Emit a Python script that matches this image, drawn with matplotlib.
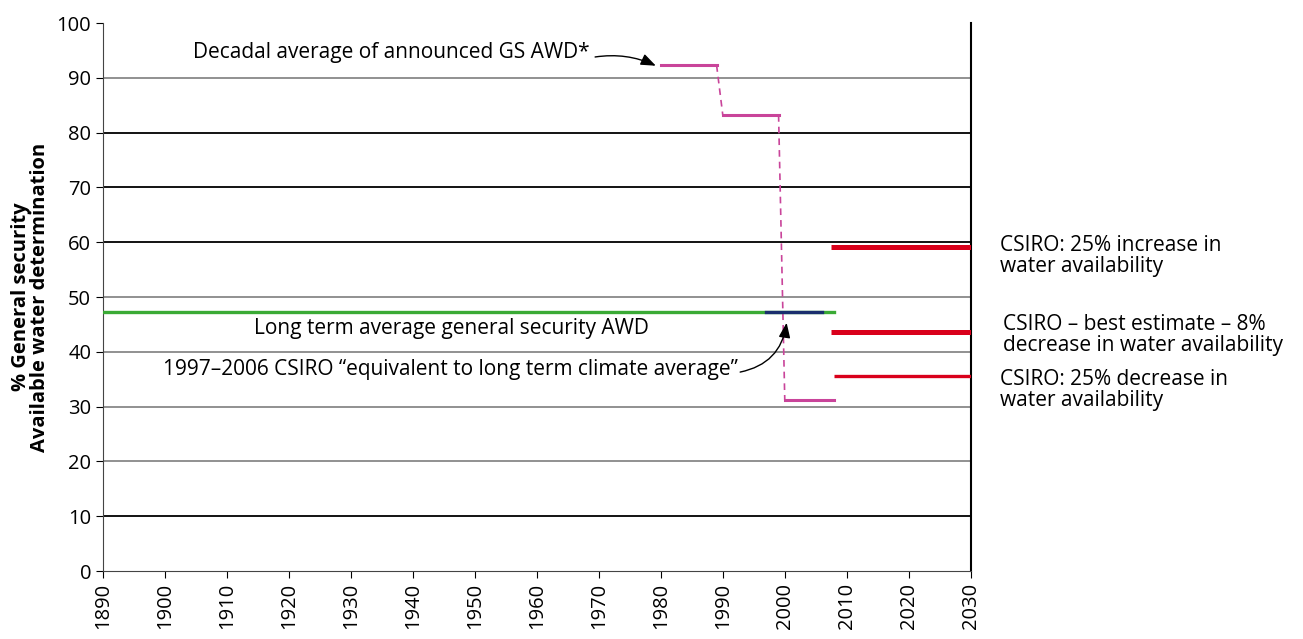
import matplotlib.pyplot as plt

plt.rcParams['font.family'] = ['Open Sans', 'DejaVu Sans']

# decadal average of announced GS AWD (step values)
decadal_start = [1980, 1990, 2000]
decadal_end = [1989, 1999, 2008]
decadal_val = [92.3, 83.2, 31.2]

long_term_avg = 47.3
long_term_span = [1890, 2008]
csiro_equiv_span = [1997, 2006]

# CSIRO projections
proj_start = [2007.4, 2007.4, 2008]
proj_end = 2030
proj_vals = [59.2, 43.6, 35.5]
proj_widths = [3.6, 3.6, 2.4]
proj_labels = ["CSIRO: 25% increase in\nwater availability",
               "CSIRO \u2013 best estimate \u2013 8%\ndecrease in water availability",
               "CSIRO: 25% decrease in\nwater availability"]

grid_vals = [10, 20, 30, 40, 50, 60, 70, 80, 90]
grid_cols = ['black', '#888888', '#888888', '#888888', '#888888',
             'black', 'black', 'black', '#888888']

fig = plt.figure(figsize=(13.03, 6.39), dpi=100)
ax = fig.add_axes([0.079, 0.1064, 0.666, 0.8576])

for g, c in zip(grid_vals, grid_cols):
    ax.axhline(g, color=c, lw=1.3, zorder=1)

# long term average
ax.plot(long_term_span, [long_term_avg] * 2, color='#3aaa35', lw=2.4, zorder=3)
ax.plot(csiro_equiv_span, [long_term_avg] * 2, color='#1a2f6e', lw=2.4, zorder=4)

# decadal steps
mag = '#c9449a'
for i in range(len(decadal_val)):
    ax.plot([decadal_start[i], decadal_end[i]], [decadal_val[i]] * 2,
            color=mag, lw=2.2, zorder=3)
    if i > 0:
        ax.plot([decadal_end[i - 1], decadal_start[i]],
                [decadal_val[i - 1], decadal_val[i]],
                color=mag, lw=1.2, ls=(0, (4, 3)), zorder=3)

# projections
for s, v, w in zip(proj_start, proj_vals, proj_widths):
    ax.plot([s, proj_end], [v, v], color='#d9001b', lw=w, zorder=3,
            solid_capstyle='butt')

ax.set_xlim(1890, 2030)
ax.set_ylim(0, 100)
ax.set_xticks(range(1890, 2031, 10))
ax.set_yticks(range(0, 101, 10))
ax.tick_params(axis='x', labelrotation=90, labelsize=14.5, length=5, direction='out')
ax.tick_params(axis='y', labelsize=14.5, length=5, direction='out')
ax.spines['top'].set_visible(False)
ax.spines['left'].set_color('#444444')
ax.spines['bottom'].set_color('#444444')
ax.spines['right'].set_linewidth(1.5)
ax.set_ylabel("% General security\nAvailable water determination",
              fontsize=14.5, fontweight='bold', linespacing=0.95)
ax.yaxis.set_label_coords(-0.061, 0.5)

arrow_kw = dict(arrowstyle='-|>,head_length=0.9,head_width=0.35',
                color='black', lw=1, shrinkA=0, shrinkB=0)

ax.text(1968.5, 94.7, "Decadal average of announced GS AWD*",
        ha='right', va='center', fontsize=15)
ax.annotate("", xy=(1979.2, 92.2), xytext=(1969.4, 93.8),
            arrowprops=dict(connectionstyle='arc3,rad=-0.15', **arrow_kw))

ax.text(1946.3, 44.3, "Long term average general security AWD",
        ha='center', va='center', fontsize=15)

ax.text(1992.5, 36.7,
        "1997\u20132006 CSIRO \u201cequivalent to long term climate average\u201d",
        ha='right', va='center', fontsize=15)
ax.annotate("", xy=(2000.3, 45.3), xytext=(1992.8, 36.3),
            arrowprops=dict(connectionstyle='arc3,rad=0.35', **arrow_kw))

label_pos = [(1000, 256), (1003, 335), (1000, 390)]
for (px, py), lab in zip(label_pos, proj_labels):
    fig.text(px / 1303, 1 - py / 639, lab, ha='left', va='center',
             fontsize=15, linespacing=1.0)

fig.savefig("out.png", dpi=100)
